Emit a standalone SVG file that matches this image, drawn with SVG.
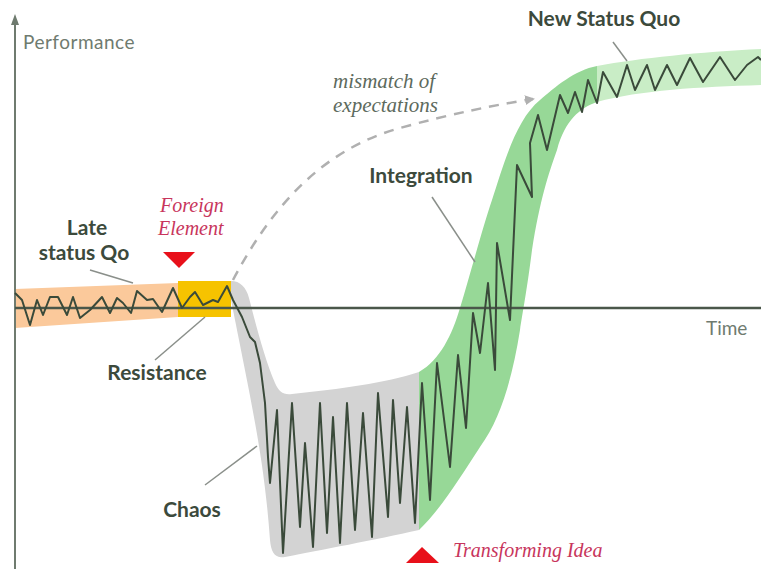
<svg xmlns="http://www.w3.org/2000/svg" width="761" height="569" viewBox="0 0 761 569">
<style>
.lbl{font-family:Lato,"Open Sans","Liberation Sans",sans-serif;font-weight:bold;font-size:21px;fill:#3c4a3c}
.ax{font-family:Lato,"Open Sans","Liberation Sans",sans-serif;font-size:19px;fill:#6f7b6f}
.red{font-family:"Liberation Serif",serif;font-style:italic;font-size:20px;fill:#c8355c}
.note{font-family:"Liberation Serif",serif;font-style:italic;font-size:21px;fill:#5d6a5d}
.lead{stroke:#8a8f8a;stroke-width:1.5;fill:none}
</style>
<defs>
<marker id="dash-arrow" viewBox="0 0 10 10" refX="8" refY="5" markerWidth="4" markerHeight="4" orient="auto">
<path d="M0,0 L10,5 L0,10 Z" fill="#b0b0b0"/>
</marker>
</defs>
<rect width="761" height="569" fill="#ffffff"/>

<g id="bands">
<path id="band-late" d="M15,289 L178,283 L178,317 L15,328 Z" fill="#fbc99b"/>
<path id="band-resistance" d="M178,281 L231,281 L231,317 L178,317 Z" fill="#f6c300"/>
<path id="band-chaos" d="M231,281 C240,281 246,287 249,298 C256,325 265,360 275,383 C279,392 283,395 292,394 C340,389 385,383 419,372 L419,530 C375,540 320,550 285,557 C275,559 271,552 270,540 C265,470 255,420 240,345 C236,325 233,310 231,300 Z" fill="#d3d3d3"/>
<path id="band-integration" d="M419,372 C440,360 452,335 460,308 C470,275 482,230 492,200 C502,170 515,120 540,100 C555,87 575,70 597,66 L597,102 C580,108 565,120 557,150 C548,175 540,200 532,250 C527,290 523,310 520,330 C512,380 500,420 480,447 C460,478 440,510 419,530 Z" fill="#97d897"/>
<path id="band-new" d="M597,66 C640,58 700,52 761,49 L761,85 C700,87 640,90 597,102 Z" fill="#c9edc6"/>
</g>

<g id="axes">
<line x1="15" y1="22" x2="15" y2="569" stroke="#6f7b6f" stroke-width="2"/>
<path d="M11,25 L19,25 L15,14 Z" fill="#6f7b6f"/>
<line x1="15" y1="308" x2="761" y2="308" stroke="#4a574a" stroke-width="2.5"/>
<text class="ax" x="23" y="49" font-size="21" letter-spacing="0.5">Performance</text>
<text class="ax" x="706" y="335">Time</text>
</g>

<g id="connectors">
<path d="M233,280 C270,210 320,150 400,128 C450,114 500,104 533,99" fill="none" stroke="#b0b0b0" stroke-width="2.5" stroke-dasharray="10,8" marker-end="url(#dash-arrow)"/>
<line class="lead" x1="90" y1="270" x2="133" y2="283"/>
<line class="lead" x1="155" y1="360" x2="205" y2="317"/>
<line class="lead" x1="205" y1="485" x2="257" y2="446"/>
<line class="lead" x1="432" y1="197" x2="475" y2="262"/>
<line class="lead" x1="613" y1="42" x2="627" y2="61"/>
</g>

<g id="performance-line">
<polyline fill="none" stroke="#3a4a3a" stroke-width="2" stroke-linejoin="round" points="15,293 22,300 30,325 37,300 43,315 50,297 58,297 67,315 73,297 80,318 90,310 102,297 110,313 117,298 123,303 131,313 137,291 147,300 153,299 162,312 173,288 182,308 190,297 195,292 203,305 213,300 218,302 227,286 233,300 242,317 250,337 255,342 260,363 265,403 268,457 270,483 277,410 283,553 292,403 300,527 305,443 313,547 320,403 327,533 333,417 340,543 347,403 355,530 363,413 372,537 378,393 388,517 393,400 400,503 407,407 415,523 422,383 430,500 437,363 450,467 458,355 466,428 473,313 480,353 488,283 495,370 497,243 510,320 517,165 532,197 530,143 538,115 547,150 560,95 568,113 575,92 582,112 588,80 597,103 603,72 617,97 627,65 635,90 647,65 655,90 667,65 677,85 690,58 703,82 720,57 735,80 747,65 758,57 761,60"/>
</g>

<g id="late-status-quo">
<text class="lbl" x="87" y="235" text-anchor="middle">Late</text>
<text class="lbl" x="84" y="260" text-anchor="middle">status Qo</text>
</g>
<g id="foreign-element">
<text class="red" x="160" y="212">Foreign</text>
<text class="red" x="158" y="235">Element</text>
<path d="M163,252 L195,252 L179,268 Z" fill="#e8101a"/>
</g>
<g id="resistance"><text class="lbl" x="157" y="380" text-anchor="middle">Resistance</text></g>
<g id="chaos"><text class="lbl" x="192" y="517" text-anchor="middle">Chaos</text></g>
<g id="integration"><text class="lbl" x="421" y="183" text-anchor="middle">Integration</text></g>
<g id="new-status-quo"><text class="lbl" x="604" y="26" text-anchor="middle">New Status Quo</text></g>
<g id="mismatch">
<text class="note" x="333" y="88">mismatch of</text>
<text class="note" x="333" y="112">expectations</text>
</g>
<g id="transforming-idea">
<path d="M406,563 L439,563 L422,547 Z" fill="#e8101a"/>
<text class="red" x="453" y="557">Transforming Idea</text>
</g>
</svg>
